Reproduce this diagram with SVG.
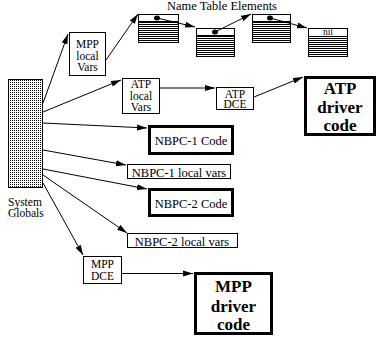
<svg xmlns="http://www.w3.org/2000/svg" width="383" height="337" viewBox="0 0 383 337">
<style>
text{font-family:Liberation Serif,Times New Roman,DejaVu Serif,serif;fill:#000}
.t{font-size:12.5px;text-anchor:middle}
.s{font-size:11.5px;text-anchor:middle}
.m{font-size:11.5px;text-anchor:middle}
.b{font-size:17px;font-weight:bold;text-anchor:middle}
.box{fill:#fff;stroke:#000;stroke-width:1}
.thick{fill:#fff;stroke:#000;stroke-width:3}
.c{stroke:#000;stroke-width:1;fill:none;marker-end:url(#ah)}
.ne{fill:url(#stripes);stroke:#000;stroke-width:1}
</style>
<defs>
<marker id="ah" markerUnits="userSpaceOnUse" markerWidth="11" markerHeight="7" refX="10" refY="3.5" orient="auto">
<path d="M0,0.5 L10,3.5 L0,6.5 z" fill="#000"/>
</marker>
<pattern id="dots" patternUnits="userSpaceOnUse" width="2" height="2">
<rect width="2" height="2" fill="#fff"/>
<rect x="0" y="0" width="1" height="1" fill="#000"/>
</pattern>
<pattern id="stripes" patternUnits="userSpaceOnUse" width="2" height="2">
<rect width="2" height="2" fill="#fff"/>
<rect x="0" y="0" width="2" height="1" fill="#000"/>
</pattern>
</defs>
<rect width="383" height="337" fill="#fff"/>

<g id="connectors">
<line class="c" x1="43" y1="103" x2="68" y2="34"/>
<line class="c" x1="43" y1="112" x2="121" y2="80"/>
<line class="c" x1="43" y1="123" x2="147" y2="128"/>
<line class="c" x1="43" y1="150" x2="126" y2="165"/>
<line class="c" x1="43" y1="169" x2="147" y2="189"/>
<line class="c" x1="43" y1="175" x2="127" y2="233"/>
<line class="c" x1="43" y1="183" x2="83" y2="255"/>
<line class="c" x1="106" y1="60" x2="138" y2="14"/>
<line class="c" x1="160" y1="88" x2="215" y2="88"/>
<line class="c" x1="254" y1="97" x2="303" y2="77"/>
<line class="c" x1="122" y1="273.5" x2="193" y2="273.5"/>
</g>

<g id="system-globals">
<rect x="8.5" y="79.5" width="34" height="108" fill="url(#dots)" stroke="#000"/>
<text x="8" y="205.5" font-size="11.5">System</text>
<text x="8" y="217" font-size="11.5">Globals</text>
</g>

<g id="mpp-local-vars">
<rect class="box" x="69.5" y="32.5" width="36" height="43"/>
<text class="m" x="87.5" y="47.5">MPP</text>
<text class="m" x="87.5" y="59.5">local</text>
<text class="m" x="87.5" y="71">Vars</text>
</g>

<g id="name-table">
<text x="222" y="10" font-size="12.5" text-anchor="middle">Name Table Elements</text>
<g id="ne1">
<rect class="ne" x="138.5" y="14.5" width="40" height="28"/>
<rect x="139" y="15" width="39" height="6" fill="#fff"/>
<line x1="138.5" y1="21.5" x2="178.5" y2="21.5" stroke="#000"/>
<ellipse cx="157" cy="18" rx="3" ry="2.5" fill="#000"/>
<line class="c" x1="157" y1="18" x2="195" y2="27"/>
</g>
<g id="ne2">
<rect class="ne" x="196.5" y="28.5" width="38" height="28"/>
<rect x="197" y="29" width="37" height="6" fill="#fff"/>
<line x1="196.5" y1="35.5" x2="234.5" y2="35.5" stroke="#000"/>
<ellipse cx="215" cy="32" rx="3" ry="2.5" fill="#000"/>
<line class="c" x1="215" y1="32" x2="251" y2="14"/>
</g>
<g id="ne3">
<rect class="ne" x="252.5" y="14.5" width="38" height="28"/>
<rect x="253" y="15" width="37" height="6" fill="#fff"/>
<line x1="252.5" y1="21.5" x2="290.5" y2="21.5" stroke="#000"/>
<ellipse cx="270" cy="18" rx="3" ry="2.5" fill="#000"/>
<line class="c" x1="270" y1="18" x2="307" y2="28"/>
</g>
<g id="ne4">
<rect class="ne" x="308.5" y="28.5" width="39" height="28"/>
<rect x="309" y="29" width="38" height="7" fill="#fff"/>
<line x1="308.5" y1="36.5" x2="347.5" y2="36.5" stroke="#000"/>
<text x="328" y="35" font-size="9.5" text-anchor="middle">nil</text>
</g>
</g>

<g id="atp-local-vars">
<rect class="box" x="122.5" y="78.5" width="37" height="35"/>
<text class="s" x="141" y="88">ATP</text>
<text class="s" x="141" y="99.5">local</text>
<text class="s" x="141" y="111">Vars</text>
</g>

<g id="atp-dce">
<rect class="box" x="216.5" y="87.5" width="37" height="22"/>
<text class="s" x="235" y="97.5">ATP</text>
<text class="s" x="235" y="108">DCE</text>
</g>

<g id="atp-driver-code">
<rect class="thick" x="305.5" y="77.5" width="69" height="57"/>
<text class="b" x="340" y="94">ATP</text>
<text class="b" x="340" y="113">driver</text>
<text class="b" x="340" y="131">code</text>
</g>

<g id="nbpc1-code">
<rect class="thick" x="149.5" y="126.5" width="83" height="27"/>
<text class="t" x="191" y="145">NBPC-1 Code</text>
</g>

<g id="nbpc1-local-vars">
<rect class="box" x="127.5" y="164.5" width="103" height="14"/>
<text class="t" x="179" y="176.5">NBPC-1 local vars</text>
</g>

<g id="nbpc2-code">
<rect class="thick" x="149.5" y="189.5" width="83" height="26"/>
<text class="t" x="191" y="207.5">NBPC-2 Code</text>
</g>

<g id="nbpc2-local-vars">
<rect class="box" x="127.5" y="233.5" width="110" height="14"/>
<text class="t" x="182" y="245.5">NBPC-2 local vars</text>
</g>

<g id="mpp-dce">
<rect class="box" x="83.5" y="256.5" width="38" height="27"/>
<text class="s" x="102.5" y="268">MPP</text>
<text class="s" x="102.5" y="280">DCE</text>
</g>

<g id="mpp-driver-code">
<rect class="thick" x="195.5" y="273.5" width="76" height="60"/>
<text class="b" x="233.5" y="292">MPP</text>
<text class="b" x="233.5" y="312">driver</text>
<text class="b" x="233.5" y="330">code</text>
</g>
</svg>
